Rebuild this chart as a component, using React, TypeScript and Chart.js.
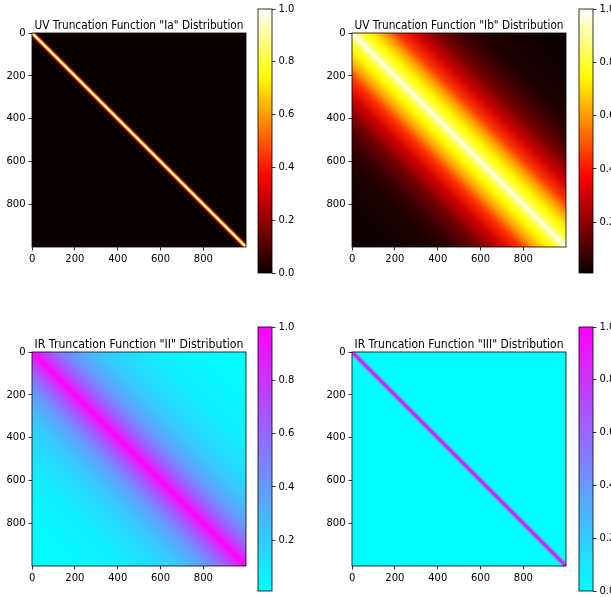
import React, { useEffect, useRef } from 'react';
import { Chart, registerables } from 'chart.js';

Chart.register(...registerables);

const FONT = 'DejaVu Sans';

// Axis ticks (matrix index 0..999, imshow extent -0.5..999.5)
const AXIS_MIN = -0.5;
const AXIS_MAX = 999.5;
const X_TICKS = [0, 200, 400, 600, 800];
const Y_TICKS = [0, 200, 400, 600, 800];
const CB_TICKS_WITH_ZERO = [0.0, 0.2, 0.4, 0.6, 0.8, 1.0];
const CB_TICKS_NO_ZERO = [0.2, 0.4, 0.6, 0.8, 1.0];

// Titles
const TITLE_IA = 'UV Truncation Function "Ia" Distribution';
const TITLE_IB = 'UV Truncation Function "Ib" Distribution';
const TITLE_II = 'IR Truncation Function "II" Distribution';
const TITLE_III = 'IR Truncation Function "III" Distribution';

// Value profiles: value of cell (i, j) as a function of |i - j|
const IA_DIST = [0, 2, 4, 6, 8, 10, 12, 14, 16, 18, 20, 24, 28, 32, 1000];
const IA_VALUES = [1.0, 0.973, 0.895, 0.779, 0.641, 0.499, 0.368, 0.257, 0.169, 0.105, 0.062, 0.018, 0.0043, 0.0008, 0.0];

const IB_DIST = [0, 10, 25, 50, 80, 145, 210, 300, 400, 500, 600, 700, 800, 900, 1000];
const IB_VALUES = [1.0, 0.93, 0.86, 0.79, 0.74, 0.62, 0.45, 0.3, 0.17, 0.085, 0.047, 0.03, 0.02, 0.014, 0.01];

const II_DIST = [0, 20, 50, 100, 150, 200, 300, 400, 500, 600, 700, 800, 900, 1000];
const II_VALUES = [1.0, 0.9, 0.78, 0.61, 0.48, 0.38, 0.24, 0.16, 0.11, 0.07, 0.045, 0.03, 0.018, 0.01];

const III_DIST = [0, 2, 4, 6, 8, 10, 12, 14, 16, 18, 20, 24, 28, 32, 1000];
const III_VALUES = [1.0, 0.977, 0.91, 0.808, 0.685, 0.553, 0.427, 0.314, 0.22, 0.147, 0.094, 0.033, 0.0097, 0.0023, 0.0];

type Cmap = (t: number) => string;

const clamp = (v: number) => Math.max(0, Math.min(1, v));
const rgb = (r: number, g: number, b: number) =>
  `rgb(${Math.round(clamp(r) * 255)},${Math.round(clamp(g) * 255)},${Math.round(clamp(b) * 255)})`;

const hot: Cmap = (t) => {
  t = clamp(t);
  const r = t < 0.365079 ? 0.0416 + (t / 0.365079) * (1 - 0.0416) : 1;
  const g = t < 0.365079 ? 0 : t < 0.746032 ? (t - 0.365079) / (0.746032 - 0.365079) : 1;
  const b = t < 0.746032 ? 0 : (t - 0.746032) / (1 - 0.746032);
  return rgb(r, g, b);
};
const HOT_STOPS = [0, 0.365079, 0.746032, 1];

const cool: Cmap = (t) => {
  t = clamp(t);
  return rgb(t, 1 - t, 1);
};
const COOL_STOPS = [0, 1];

const tickFont = { family: FONT, size: 10 };

interface PanelProps {
  left: number;
  top: number;
  title: string;
  dist: number[];
  values: number[];
  cmap: Cmap;
}

function Heatmap({ left, top, title, dist, values, cmap }: PanelProps) {
  const ref = useRef<HTMLCanvasElement>(null);
  useEffect(() => {
    const canvas = ref.current;
    if (!canvas) return;
    const vmin = Math.min(...values);
    const vmax = Math.max(...values);
    const dmax = dist[dist.length - 1];
    const heat = {
      id: 'heat',
      beforeDatasetsDraw(chart: any) {
        const { ctx, chartArea: a } = chart;
        const xs = chart.scales.x;
        const ys = chart.scales.y;
        const mk = (sx: number, sy: number) => {
          const g = ctx.createLinearGradient(
            xs.getPixelForValue(0),
            ys.getPixelForValue(0),
            xs.getPixelForValue((sx * dmax) / 2),
            ys.getPixelForValue((sy * dmax) / 2)
          );
          dist.forEach((d, i) => g.addColorStop(d / dmax, cmap((values[i] - vmin) / (vmax - vmin))));
          return g;
        };
        ctx.save();
        ctx.beginPath();
        ctx.rect(a.left, a.top, a.right - a.left, a.bottom - a.top);
        ctx.clip();
        ctx.fillStyle = mk(-1, 1);
        ctx.fillRect(a.left, a.top, a.right - a.left, a.bottom - a.top);
        ctx.fillStyle = mk(1, -1);
        ctx.beginPath();
        ctx.moveTo(xs.getPixelForValue(AXIS_MIN), ys.getPixelForValue(AXIS_MIN));
        ctx.lineTo(xs.getPixelForValue(AXIS_MAX), ys.getPixelForValue(AXIS_MIN));
        ctx.lineTo(xs.getPixelForValue(AXIS_MAX), ys.getPixelForValue(AXIS_MAX));
        ctx.closePath();
        ctx.fill();
        ctx.restore();
      },
      afterDatasetsDraw(chart: any) {
        const { ctx, chartArea: a } = chart;
        ctx.save();
        ctx.strokeStyle = '#000';
        ctx.lineWidth = 0.8;
        ctx.strokeRect(a.left, a.top, a.right - a.left, a.bottom - a.top);
        // axes title, centred over the image
        ctx.fillStyle = '#000';
        ctx.font = `normal 12px "${FONT}"`;
        ctx.textAlign = 'center';
        ctx.textBaseline = 'alphabetic';
        ctx.fillText(title, (a.left + a.right) / 2, a.top - 4.5, 209);
        ctx.restore();
      },
    };
    const grid = {
      display: true,
      drawOnChartArea: false,
      drawTicks: true,
      tickLength: 3.5,
      tickColor: '#000',
      tickWidth: 0.8,
    };
    const chart = new Chart(canvas, {
      type: 'scatter',
      data: { datasets: [] },
      options: {
        animation: false,
        responsive: false,
        devicePixelRatio: 1,
        events: [],
        layout: { padding: { left: 0, right: 59, top: 33, bottom: 0 } },
        plugins: {
          legend: { display: false },
          tooltip: { enabled: false },
          title: { display: false },
        },
        scales: {
          x: {
            type: 'linear',
            position: 'bottom',
            min: AXIS_MIN,
            max: AXIS_MAX,
            afterFit: (s: any) => {
              s.height = 43;
            },
            afterBuildTicks: (s: any) => {
              s.ticks = X_TICKS.map((v) => ({ value: v }));
            },
            grid,
            border: { display: false },
            ticks: {
              color: '#000',
              font: tickFont,
              padding: 3,
              maxRotation: 0,
              autoSkip: false,
              callback: (v: any) => String(v),
            },
          },
          y: {
            type: 'linear',
            position: 'left',
            reverse: true,
            min: AXIS_MIN,
            max: AXIS_MAX,
            afterFit: (s: any) => {
              s.width = 32;
            },
            afterBuildTicks: (s: any) => {
              s.ticks = Y_TICKS.map((v) => ({ value: v }));
            },
            grid,
            border: { display: false },
            ticks: {
              color: '#000',
              font: tickFont,
              padding: 3,
              autoSkip: false,
              callback: (v: any) => String(v),
            },
          },
        },
      } as any,
      plugins: [heat],
    });
    return () => chart.destroy();
  }, [title, dist, values, cmap]);
  return (
    <canvas
      ref={ref}
      width={305}
      height={290}
      style={{ position: 'absolute', left, top, width: 305, height: 290 }}
    />
  );
}

interface BarProps {
  left: number;
  top: number;
  values: number[];
  cmap: Cmap;
  stops: number[];
  ticks: number[];
}

function Colorbar({ left, top, values, cmap, stops, ticks }: BarProps) {
  const ref = useRef<HTMLCanvasElement>(null);
  useEffect(() => {
    const canvas = ref.current;
    if (!canvas) return;
    const vmin = Math.min(...values);
    const vmax = Math.max(...values);
    const bar = {
      id: 'bar',
      beforeDatasetsDraw(chart: any) {
        const { ctx, chartArea: a } = chart;
        const ys = chart.scales.y;
        const g = ctx.createLinearGradient(0, ys.getPixelForValue(vmin), 0, ys.getPixelForValue(vmax));
        stops.forEach((t) => g.addColorStop(t, cmap(t)));
        ctx.save();
        ctx.fillStyle = g;
        ctx.fillRect(a.left, a.top, a.right - a.left, a.bottom - a.top);
        ctx.strokeStyle = '#000';
        ctx.lineWidth = 0.8;
        ctx.strokeRect(a.left, a.top, a.right - a.left, a.bottom - a.top);
        ctx.restore();
      },
    };
    const chart = new Chart(canvas, {
      type: 'scatter',
      data: { datasets: [] },
      options: {
        animation: false,
        responsive: false,
        devicePixelRatio: 1,
        events: [],
        layout: { padding: { left: 8, right: 0, top: 8, bottom: 17 } },
        plugins: { legend: { display: false }, tooltip: { enabled: false } },
        scales: {
          x: { type: 'linear', display: false, min: 0, max: 1 },
          y: {
            type: 'linear',
            position: 'right',
            min: vmin,
            max: vmax,
            afterFit: (s: any) => {
              s.width = 38;
            },
            afterBuildTicks: (s: any) => {
              s.ticks = ticks.map((v) => ({ value: v }));
            },
            grid: {
              display: true,
              drawOnChartArea: false,
              drawTicks: true,
              tickLength: 3.5,
              tickColor: '#000',
              tickWidth: 0.8,
            },
            border: { display: false },
            ticks: {
              color: '#000',
              font: tickFont,
              padding: 3,
              autoSkip: false,
              callback: (v: any) => Number(v).toFixed(1),
            },
          },
        },
      } as any,
      plugins: [bar],
    });
    return () => chart.destroy();
  }, [values, cmap, stops, ticks]);
  return (
    <canvas
      ref={ref}
      width={60}
      height={290}
      style={{ position: 'absolute', left, top, width: 60, height: 290 }}
    />
  );
}

export default function App() {
  return (
    <div
      style={{
        position: 'fixed',
        left: 0,
        top: 0,
        width: 611,
        height: 597,
        overflow: 'hidden',
        background: '#fff',
      }}
    >
      <Heatmap left={0} top={0} title={TITLE_IA} dist={IA_DIST} values={IA_VALUES} cmap={hot} />
      <Colorbar left={250} top={0} values={IA_VALUES} cmap={hot} stops={HOT_STOPS} ticks={CB_TICKS_WITH_ZERO} />
      <Heatmap left={320} top={0} title={TITLE_IB} dist={IB_DIST} values={IB_VALUES} cmap={hot} />
      <Colorbar left={571} top={0} values={IB_VALUES} cmap={hot} stops={HOT_STOPS} ticks={CB_TICKS_NO_ZERO} />
      <Heatmap left={0} top={319} title={TITLE_II} dist={II_DIST} values={II_VALUES} cmap={cool} />
      <Colorbar left={250} top={318} values={II_VALUES} cmap={cool} stops={COOL_STOPS} ticks={CB_TICKS_NO_ZERO} />
      <Heatmap left={320} top={319} title={TITLE_III} dist={III_DIST} values={III_VALUES} cmap={cool} />
      <Colorbar left={571} top={318} values={III_VALUES} cmap={cool} stops={COOL_STOPS} ticks={CB_TICKS_WITH_ZERO} />
    </div>
  );
}
